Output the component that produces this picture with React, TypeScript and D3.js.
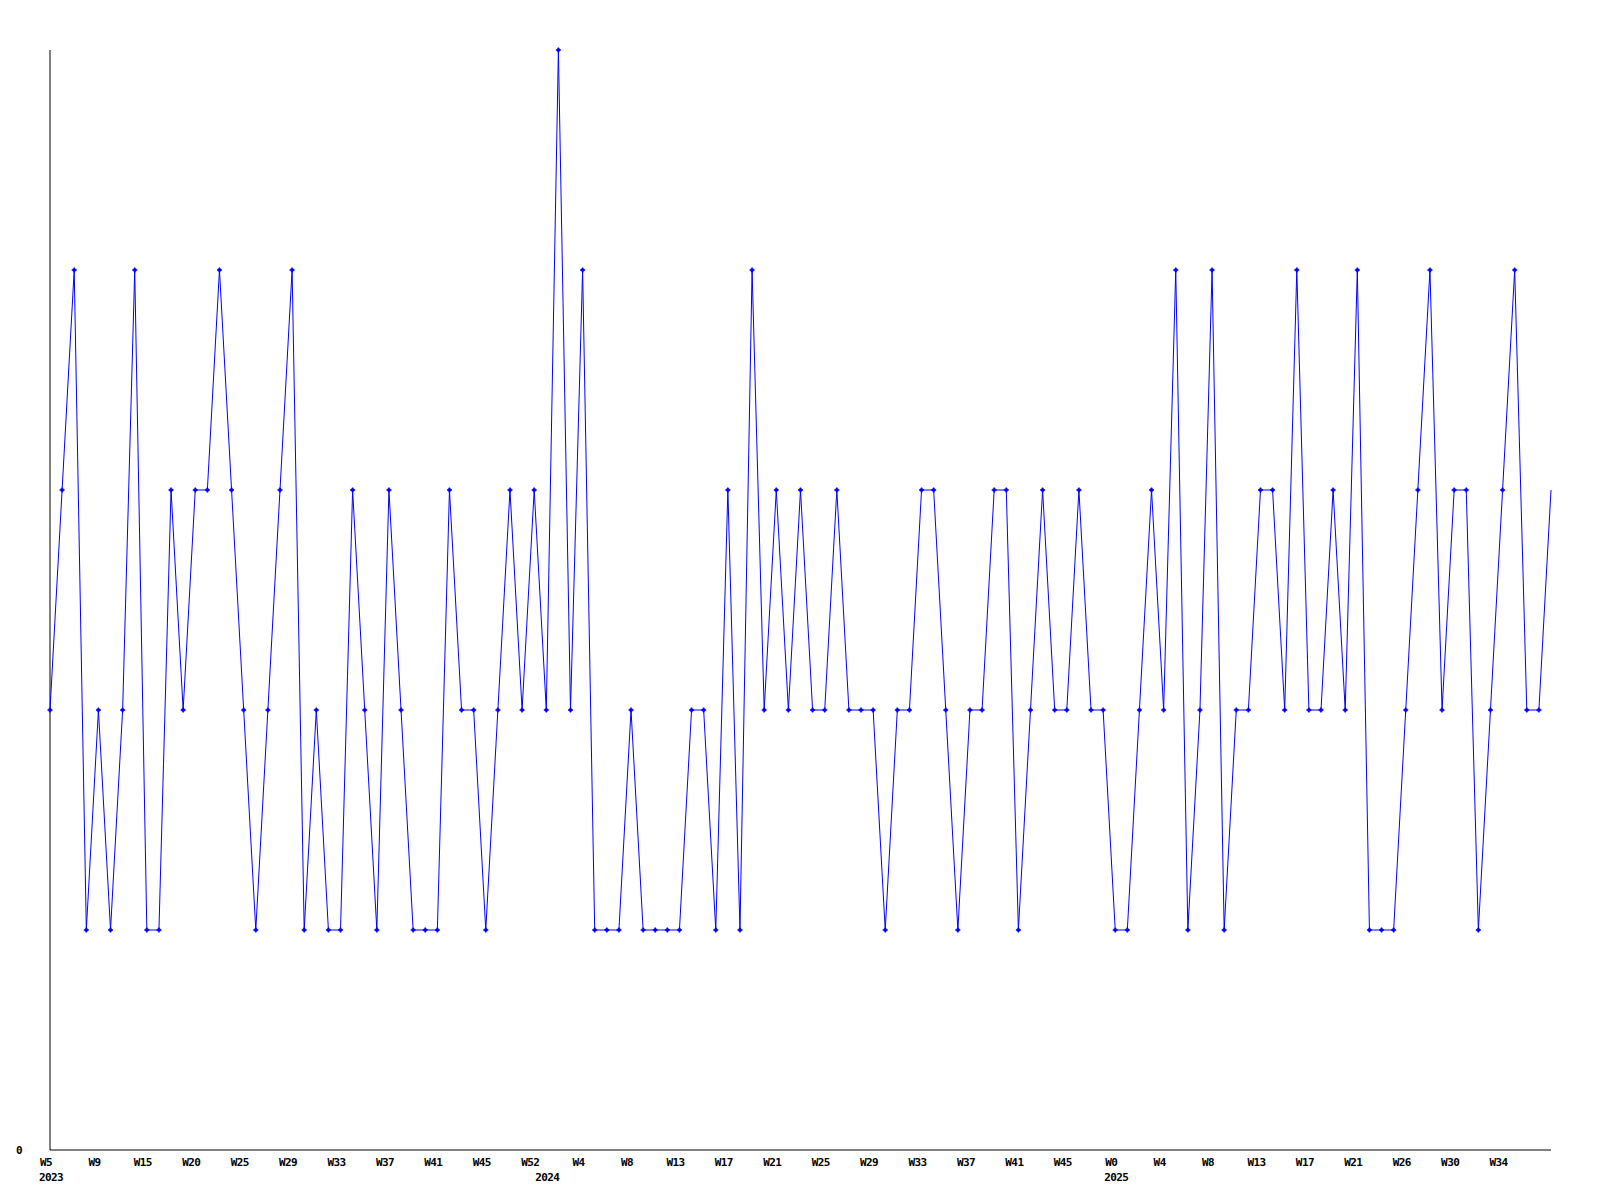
import React from "react";
import * as d3 from "d3";

const values: number[] = [
  2, 3, 4, 1, 2, 1, 2, 4, 1, 1,
  3, 2, 3, 3, 4, 3, 2, 1, 2, 3,
  4, 1, 2, 1, 1, 3, 2, 1, 3, 2,
  1, 1, 1, 3, 2, 2, 1, 2, 3, 2,
  3, 2, 5, 2, 4, 1, 1, 1, 2, 1,
  1, 1, 1, 2, 2, 1, 3, 1, 4, 2,
  3, 2, 3, 2, 2, 3, 2, 2, 2, 1,
  2, 2, 3, 3, 2, 1, 2, 2, 3, 3,
  1, 2, 3, 2, 2, 3, 2, 2, 1, 1,
  2, 3, 2, 4, 1, 2, 4, 1, 2, 2,
  3, 3, 2, 4, 2, 2, 3, 2, 4, 1,
  1, 1, 2, 3, 4, 2, 3, 3, 1, 2,
  3, 4, 2, 2, 3,
];

const tickLabels: string[] = [
  "W5", "W9", "W15", "W20", "W25", "W29", "W33", "W37", "W41", "W45", "W52",
  "W4", "W8", "W13", "W17", "W21", "W25", "W29", "W33", "W37", "W41", "W45",
  "W0", "W4", "W8", "W13", "W17", "W21", "W26", "W30", "W34",
];
const tickEvery = 4;

const yearLabels: string[] = ["2023", "2024", "2025"];
const yearIndex: number[] = [0, 41, 88];

const yMax = 5;

export default function App() {
  const W = 1600;
  const H = 1200;
  const left = 50;
  const right = 1551;
  const top = 50;
  const bottom = 1150;

  const x = d3.scaleLinear().domain([0, values.length - 1]).range([left, right]);
  const y = d3.scaleLinear().domain([0, yMax]).range([bottom, top]);

  const line = d3
    .line<number>()
    .x((_, i) => x(i))
    .y((d) => y(d));

  const font = {
    fontFamily: "'DejaVu Sans Mono', monospace",
    fontWeight: 700 as const,
    fontSize: 11,
    letterSpacing: -0.6,
  };

  return (
    <svg
      width={W}
      height={H}
      style={{ position: "absolute", left: 0, top: 0, background: "#fff" }}
    >
      <rect x={0} y={0} width={W} height={H} fill="#fff" />
      <line x1={left} y1={top} x2={left} y2={bottom} stroke="#000" strokeWidth={1} />
      <line x1={left} y1={bottom} x2={right} y2={bottom} stroke="#000" strokeWidth={1} />
      <text x={19} y={bottom + 4} textAnchor="middle" fill="#000" {...font}>
        {y.ticks(1)[0]}
      </text>
      {tickLabels.map((t, i) => (
        <text
          key={"t" + i}
          x={x(i * tickEvery) - 4}
          y={bottom + 16}
          textAnchor="middle"
          fill="#000"
          {...font}
        >
          {t}
        </text>
      ))}
      {yearLabels.map((t, i) => (
        <text
          key={"y" + i}
          x={x(yearIndex[i]) + 1}
          y={bottom + 31}
          textAnchor="middle"
          fill="#000"
          {...font}
        >
          {t}
        </text>
      ))}
      <path d={line(values) || ""} fill="none" stroke="#0000ff" strokeWidth={1} />
      {values.slice(0, values.length - 1).map((v, i) => (
        <g key={"m" + i} transform={`translate(${x(i)},${y(v)})`}>
          <path d="M-2.5,0H2.5M0,-2.5V2.5" stroke="#0000ff" strokeWidth={1.5} />
          <rect x={-1.5} y={-1.5} width={3} height={3} fill="#0000ff" />
        </g>
      ))}
    </svg>
  );
}
